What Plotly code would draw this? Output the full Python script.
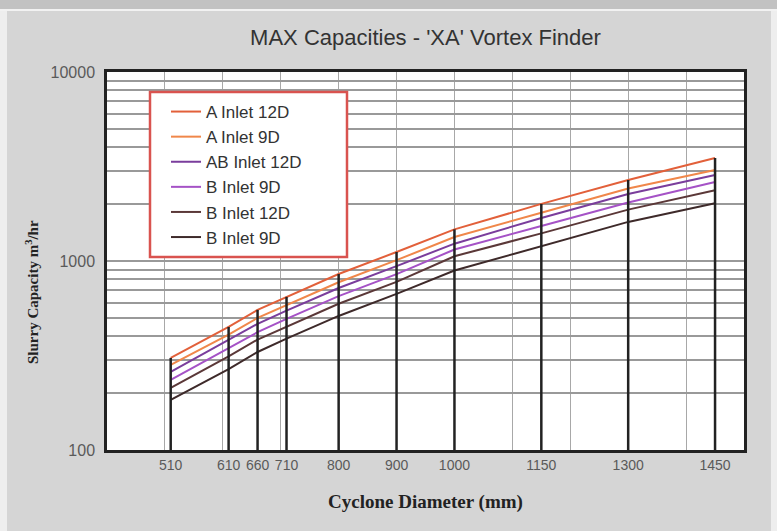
import plotly.graph_objects as go

diameters = [510, 610, 660, 710, 800, 900, 1000, 1150, 1300, 1450]
tick_labels = ["510", "610", "660", "710", "800", "900", "1000", "1150", "1300", "1450"]

series_names = ["A Inlet 12D", "A Inlet 9D", "AB Inlet 12D", "B Inlet 9D", "B Inlet 12D", "B Inlet 9D"]
a_inlet_12d = [307, 448, 551, 646, 853, 1116, 1470, 2005, 2685, 3508]
a_inlet_9d = [282, 408, 500, 585, 772, 1010, 1340, 1800, 2420, 3030]
ab_inlet_12d = [259, 380, 465, 546, 720, 940, 1235, 1690, 2260, 2850]
b_inlet_9d = [235, 344, 420, 494, 652, 852, 1150, 1530, 2040, 2620]
b_inlet_12d = [213, 313, 384, 450, 594, 776, 1060, 1400, 1870, 2370]
b_inlet_9d_2 = [184, 268, 330, 388, 512, 670, 890, 1200, 1610, 2020]

series_values = [a_inlet_12d, a_inlet_9d, ab_inlet_12d, b_inlet_9d, b_inlet_12d, b_inlet_9d_2]
colors = ["#e2603a", "#f0874a", "#7a3d9c", "#a552c6", "#5b3838", "#3e2a2a"]

fig = go.Figure()
for name, vals, col in zip(series_names, series_values, colors):
    fig.add_trace(go.Scatter(x=diameters, y=vals, mode="lines", name=name,
                             line=dict(color=col, width=2)))

# black vertical drop lines from 100 up to the top curve
vx, vy = [], []
for d, top in zip(diameters, a_inlet_12d):
    vx += [d, d, None]
    vy += [100, top, None]
fig.add_trace(go.Scatter(x=vx, y=vy, mode="lines", showlegend=False,
                         line=dict(color="#222222", width=2.5), hoverinfo="skip"))

W, H = 777, 531
L, R, T, B = 107, 33, 72, 81
pw, ph = W - L - R, H - T - B
def px(x):
    return (x - L) / pw
def py(y):
    return (H - B - y) / ph

shapes = [
    dict(type="rect", xref="paper", yref="paper", x0=px(0), x1=px(W), y0=py(9), y1=py(0),
         fillcolor="#c2c2c2", line=dict(width=0), layer="below"),
    dict(type="rect", xref="paper", yref="paper", x0=px(0), x1=px(W), y0=py(11), y1=py(9),
         fillcolor="#f2f2f2", line=dict(width=0), layer="below"),
    dict(type="rect", xref="paper", yref="paper", x0=px(0), x1=px(7), y0=py(H), y1=py(11),
         fillcolor="#eeeeee", line=dict(width=0), layer="below"),
    dict(type="rect", xref="paper", yref="paper", x0=px(771), x1=px(W), y0=py(H), y1=py(11),
         fillcolor="#eeeeee", line=dict(width=0), layer="below"),
    # legend box
    dict(type="rect", xref="paper", yref="paper", x0=px(150), x1=px(347), y0=py(257), y1=py(92),
         fillcolor="#ffffff", line=dict(color="#d9534f", width=2.5), layer="above"),
]

xtick_font = dict(family="Liberation Sans Narrow, Arial Narrow, Liberation Sans, Arial, sans-serif",
                  size=14, color="#5a5a5a")
ytick_font = dict(family="Liberation Sans Narrow, Arial Narrow, Liberation Sans, Arial, sans-serif",
                  size=16, color="#5a5a5a")

fig.update_layout(
    width=W, height=H,
    margin=dict(l=L, r=R, t=T, b=B, autoexpand=False),
    paper_bgcolor="#d5d5d5",
    plot_bgcolor="#ffffff",
    shapes=shapes,
    title=dict(text="MAX Capacities - 'XA' Vortex Finder", x=0.5, xref="paper",
               y=1 - 37 / H, yanchor="middle",
               font=dict(family="Liberation Sans, Arial, sans-serif", size=22, color="#333333")),
    legend=dict(x=px(166), y=py(94), xanchor="left", yanchor="top",
                bgcolor="rgba(0,0,0,0)", borderwidth=0,
                font=dict(family="Liberation Sans, Arial, sans-serif", size=17, color="#333333"),
                tracegroupgap=0),
    annotations=[dict(text="<b>Slurry Capacity m<sup>3</sup>/hr</b>", textangle=-90,
                      xref="paper", yref="paper", x=px(32), y=py(292),
                      xanchor="center", yanchor="middle", showarrow=False,
                      font=dict(family="Liberation Serif, Times New Roman, serif", size=15, color="#222222"))],
    xaxis=dict(range=[400, 1500], tickvals=diameters, ticktext=tick_labels,
               tickfont=xtick_font, ticks="", showgrid=False, zeroline=False,
               showline=True, mirror=True, linecolor="#222222", linewidth=2.5,
               minor=dict(tick0=0, dtick=100, showgrid=True, gridcolor="#a8a8a8", gridwidth=1.2, ticks=""),
               title=dict(text="<b>Cyclone Diameter (mm)</b>",
                          font=dict(family="Liberation Serif, Times New Roman, serif", size=19, color="#222222"),
                          standoff=24)),
    yaxis=dict(type="log", range=[2, 4], tickvals=[100, 1000, 10000], ticktext=["100", "1000", "10000"],
               tickfont=ytick_font, ticks="", ticklabelstandoff=6,
               showgrid=True, gridcolor="#999999", gridwidth=1.5,
               showline=True, mirror=True, linecolor="#222222", linewidth=2.5,
               minor=dict(tickvals=[200, 300, 400, 500, 600, 700, 800, 900,
                                    2000, 3000, 4000, 5000, 6000, 7000, 8000, 9000],
                          showgrid=True, gridcolor="#999999", gridwidth=1.5, ticks="")),
)

fig.write_html("out.html", config={"displayModeBar": False},
               post_script="document.body.style.margin='0';")
